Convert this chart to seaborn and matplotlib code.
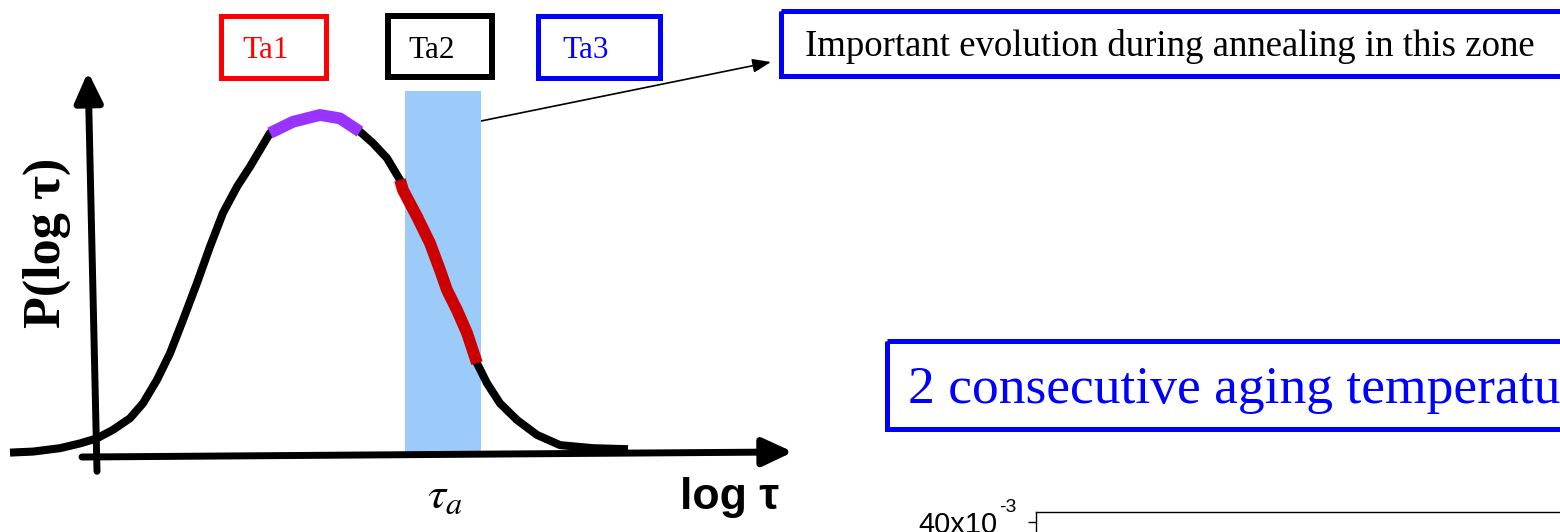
import numpy as np
import pandas as pd
import matplotlib
matplotlib.use("Agg")
import matplotlib.pyplot as plt
from matplotlib.patches import Rectangle
import seaborn as sns

# Distribution of relaxation times P(log tau), sketched by hand
log_tau = [-0.83, -0.60, -0.33, -0.13, 0.04, 0.20, 0.37, 0.50, 0.64, 0.77,
           0.90, 1.04, 1.17, 1.30, 1.44, 1.57, 1.77, 2.00, 2.27, 2.47,
           2.67, 2.80, 2.94, 3.07, 3.10, 3.24, 3.37, 3.47, 3.54, 3.64,
           3.74, 3.84, 3.94, 4.07, 4.24, 4.44, 4.67, 5.00, 5.35]
p_log_tau = [0.010, 0.013, 0.023, 0.037, 0.052, 0.077, 0.111, 0.155, 0.224, 0.302,
             0.400, 0.509, 0.616, 0.715, 0.792, 0.851, 0.950, 0.983, 1.003, 0.993,
             0.954, 0.920, 0.876, 0.812, 0.782, 0.704, 0.626, 0.547, 0.488, 0.429,
             0.362, 0.273, 0.214, 0.155, 0.106, 0.062, 0.032, 0.023, 0.020]

# highlighted parts of the curve
peak_range = (1.77, 2.67)
tail_range = (3.07, 3.84)
# shaded zone around tau_a
zone_range = (3.12, 3.88)
zone_height = (0.009, 1.074)

temp_labels = ["Ta1", "Ta2", "Ta3"]
temp_colors = ["#FF0000", "#000000", "#0000FF"]

# bottom panel y tick
lower_ticks = [40e-3]
lower_tick_labels = ["40x10"]
lower_tick_exponent = "-3"

sns.set_theme(style="white")
plt.rcParams["font.family"] = ["Liberation Serif", "DejaVu Serif"]
for key in ("text.color", "axes.labelcolor", "xtick.color", "ytick.color"):
    plt.rcParams[key] = "black"

W, H = 1560, 532
fig = plt.figure(figsize=(15.6, 5.32), dpi=100, facecolor="white")

# overlay in pixel units for the boxes and captions
ov = fig.add_axes([0, 0, 1, 1])
ov.set_xlim(0, W)
ov.set_ylim(H, 0)
ov.axis("off")

# sketch axes in (log tau, P) units
ax = fig.add_axes([0, 0, 1, 1])
ax.set_xlim(-0.93, (W - 93) / 100)
ax.set_ylim((456 - H) / 340, 456 / 340)
ax.axis("off")
ax.patch.set_alpha(0)

ax.fill_between(list(zone_range), zone_height[0], zone_height[1],
                color="#9CCBFA", lw=0, zorder=0)

df = pd.DataFrame({"log_tau": log_tau, "P": p_log_tau})
line_kw = dict(sort=False, estimator=None, solid_capstyle="butt",
               solid_joinstyle="round", ax=ax)
sns.lineplot(data=df, x="log_tau", y="P", color="black", lw=5.8, zorder=3, **line_kw)
peak = df[(df.log_tau >= peak_range[0]) & (df.log_tau <= peak_range[1])]
tail = df[(df.log_tau >= tail_range[0]) & (df.log_tau <= tail_range[1])]
sns.lineplot(data=peak, x="log_tau", y="P", color="#9933FF", lw=8.5, zorder=4, **line_kw)
sns.lineplot(data=tail, x="log_tau", y="P", color="#CC0000", lw=8.5, zorder=4, **line_kw)
ax.set_xlabel("")
ax.set_ylabel("")

# hand-drawn axes with arrow heads
arrow_style = "-|>,head_length=0.9,head_width=0.42"
ax.annotate("", xy=(-0.05, 1.13), xytext=(0.04, -0.045),
            arrowprops=dict(arrowstyle=arrow_style, lw=5, color="black",
                            mutation_scale=20, shrinkA=0, shrinkB=0), zorder=2)
ax.annotate("", xy=(7.0, 0.012), xytext=(-0.11, -0.003),
            arrowprops=dict(arrowstyle=arrow_style, lw=5, color="black",
                            mutation_scale=20, shrinkA=0, shrinkB=0), zorder=2)

ov.text(47, 243, "P(log τ)", rotation=90, ha="center", va="center",
        fontsize=37.5, fontweight="bold", color="black")
ov.text(680, 509, "log τ", family="Liberation Sans", fontweight="bold",
        fontsize=32, ha="left", va="baseline", color="black")
ov.text(427, 508, r"$\tau_a$", math_fontfamily="stix", fontsize=33,
        ha="left", va="baseline", color="black")

# temperature boxes
box_specs = [(220.5, 15.5, 105, 62, 242, 3.6),
             (388, 16, 104, 61, 408, 4.3),
             (537.5, 15.5, 122, 62, 562, 3.6)]
for (bx0, by0, bw, bh, tx, lw), lab, col in zip(box_specs, temp_labels, temp_colors):
    ov.add_patch(Rectangle((bx0, by0), bw, bh, fill=False, ec=col, lw=lw))
    ov.text(tx, 58, lab, color=col, fontsize=22.5, ha="left", va="baseline")

# pointer from the shaded zone to the comment
ov.annotate("", xy=(771, 62), xytext=(481, 121),
            arrowprops=dict(arrowstyle="-|>,head_length=0.8,head_width=0.3",
                            lw=1.2, color="black", mutation_scale=14,
                            shrinkA=0, shrinkB=0))
ov.add_patch(Rectangle((780.5, 10.5), 900, 65, fill=False, ec="#0000FF", lw=3.6))
ov.text(805, 56, "Important evolution during annealing in this zone",
        fontsize=26.5, color="black", ha="left", va="baseline")

ov.add_patch(Rectangle((886.5, 340.5), 900, 88, fill=False, ec="#0000FF", lw=3.6))
ov.text(908, 403, "2 consecutive aging temperatures", fontsize=38.5,
        color="#0000FF", ha="left", va="baseline")

# top of the lower panel
low = fig.add_axes([1036 / W, (H - 922) / H, 1000 / W, 410 / H])
low.set_ylim(0, 0.041)
low.set_yticks(lower_ticks)
low.set_yticklabels(lower_tick_labels, family="Liberation Sans", fontsize=21,
                    color="black")
low.set_xticks([])
low.tick_params(axis="y", direction="out", length=6, width=1, pad=22,
                left=True, color="black")
for s in low.spines.values():
    s.set_color("black")
    s.set_linewidth(1)
low.set_facecolor("white")
low.annotate(lower_tick_exponent, xy=(0, lower_ticks[0]),
             xycoords=("axes fraction", "data"), xytext=(-26.5, 4),
             textcoords="offset points", family="Liberation Sans",
             fontsize=14, ha="left", va="bottom", color="black",
             annotation_clip=False)

fig.savefig("out.png", dpi=100, facecolor="white")
